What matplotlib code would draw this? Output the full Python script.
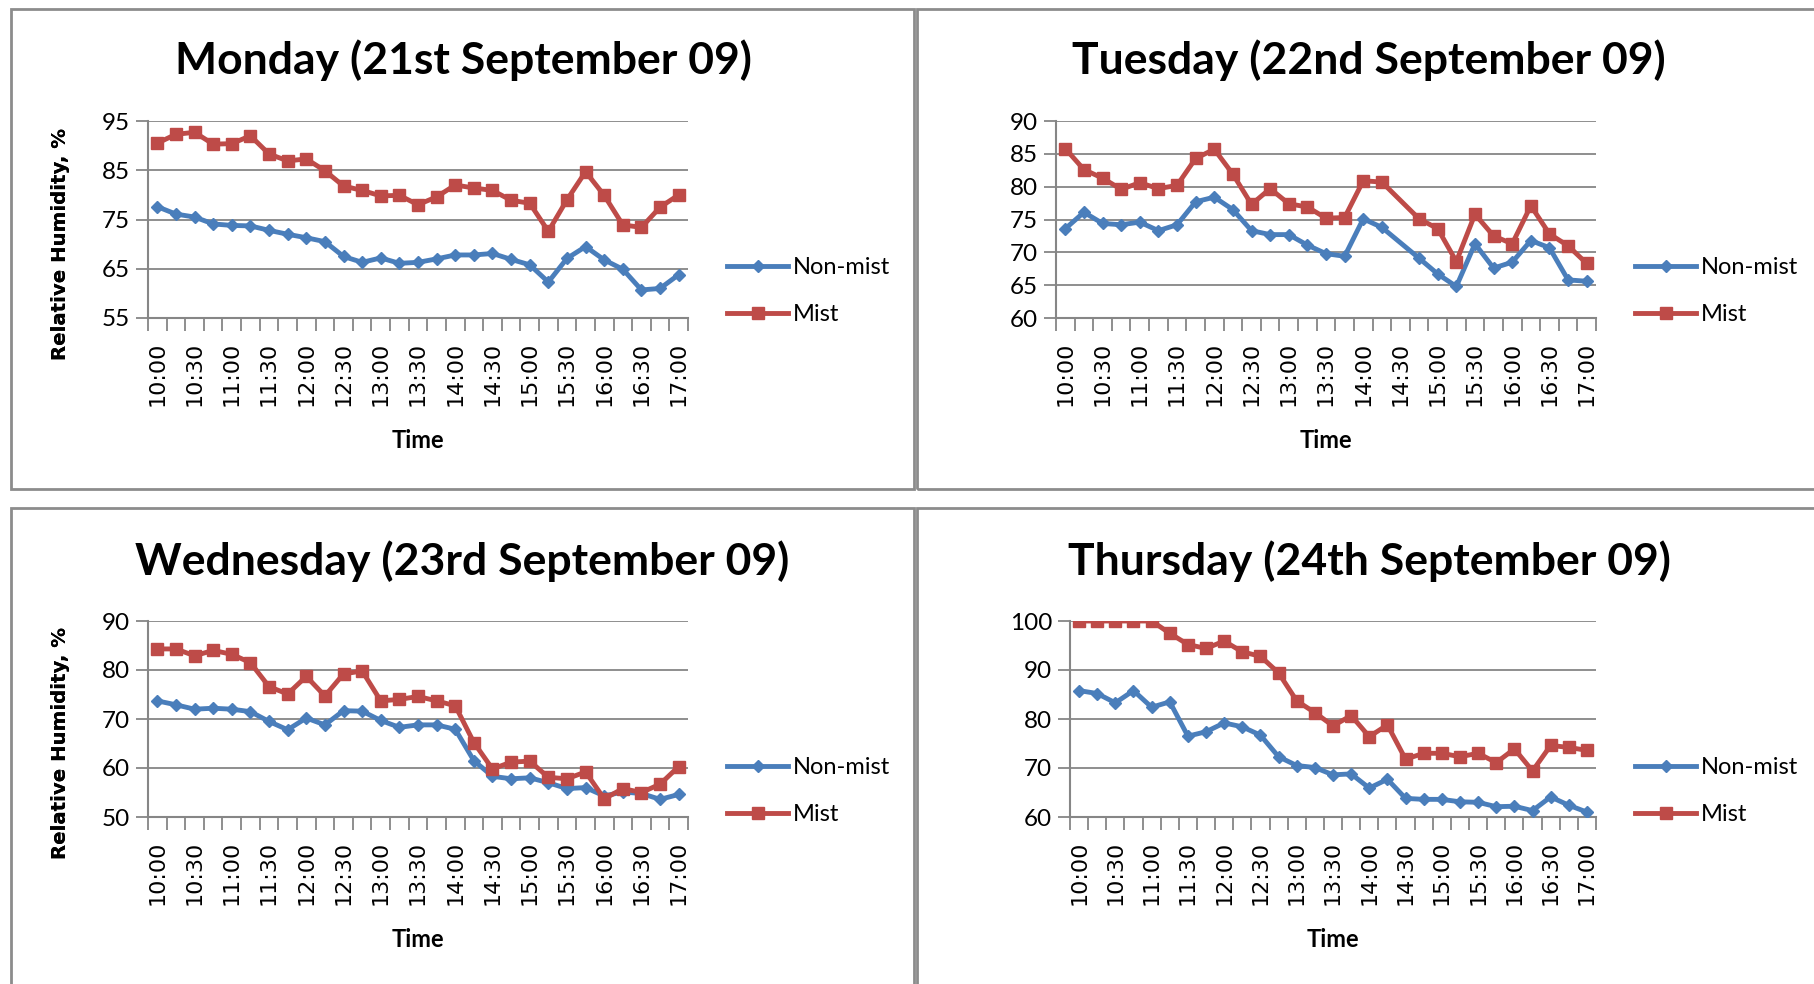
import numpy as np
import matplotlib
matplotlib.use("Agg")
import matplotlib.pyplot as plt
from matplotlib.patches import Rectangle

# 15-minute readings, 10:00 to 17:00
times = ["10:00", "10:15", "10:30", "10:45", "11:00", "11:15", "11:30", "11:45",
         "12:00", "12:15", "12:30", "12:45", "13:00", "13:15", "13:30", "13:45",
         "14:00", "14:15", "14:30", "14:45", "15:00", "15:15", "15:30", "15:45",
         "16:00", "16:15", "16:30", "16:45", "17:00"]

mon_nonmist = [77.6, 76.1, 75.5, 74.1, 73.8, 73.7, 72.8, 72.0, 71.3, 70.5, 67.5, 66.3, 67.2, 66.1, 66.3,
               67.0, 67.8, 67.8, 68.1, 66.9, 65.8, 62.3, 67.1, 69.5, 66.8, 64.9, 60.7, 61.0, 63.8]
mon_mist = [90.5, 92.3, 92.7, 90.3, 90.4, 92.0, 88.3, 86.9, 87.3, 84.9, 81.8, 80.9, 79.8, 79.9, 78.0,
            79.6, 82.0, 81.4, 80.9, 78.9, 78.3, 72.6, 79.0, 84.7, 79.9, 73.9, 73.4, 77.5, 80.0]

tue_nonmist = [73.6, 76.1, 74.4, 74.2, 74.6, 73.3, 74.2, 77.7, 78.4, 76.5, 73.3, 72.7, 72.7, 71.1, 69.8,
               69.4, 75.1, 73.8, np.nan, 69.1, 66.7, 64.8, 71.3, 67.6, 68.5, 71.8, 70.7, 65.8, 65.6]
tue_mist = [85.8, 82.6, 81.3, 79.6, 80.6, 79.7, 80.2, 84.3, 85.7, 81.9, 77.3, 79.7, 77.4, 76.9, 75.2,
            75.3, 80.9, 80.7, np.nan, 75.1, 73.6, 68.6, 75.8, 72.5, 71.3, 77.1, 72.8, 71.0, 68.3]

wed_nonmist = [73.7, 72.9, 72.0, 72.2, 72.0, 71.5, 69.5, 67.8, 70.2, 68.8, 71.7, 71.6, 69.7, 68.3, 68.8,
               68.8, 67.9, 61.5, 58.3, 57.8, 58.0, 57.0, 55.8, 56.0, 54.3, 55.1, 54.8, 53.6, 54.6]
wed_mist = [84.3, 84.3, 82.9, 84.0, 83.2, 81.5, 76.6, 75.1, 78.7, 74.7, 79.2, 79.8, 73.7, 74.0, 74.6,
            73.7, 72.7, 65.2, 59.8, 61.2, 61.4, 58.1, 57.8, 59.2, 53.7, 55.8, 55.0, 56.7, 60.3]

thu_nonmist = [85.8, 85.2, 83.3, 85.8, 82.4, 83.5, 76.5, 77.4, 79.2, 78.4, 76.7, 72.3, 70.5, 70.1, 68.6,
               68.8, 65.9, 67.7, 63.8, 63.6, 63.6, 63.1, 63.0, 62.1, 62.2, 61.3, 64.1, 62.4, 61.0]
thu_mist = [100, 100, 100, 100, 100, 97.5, 95.2, 94.4, 95.9, 93.7, 92.8, 89.4, 83.7, 81.3, 78.6,
            80.7, 76.4, 78.8, 71.8, 73.0, 73.0, 72.3, 73.0, 71.1, 73.9, 69.4, 74.6, 74.2, 73.6]

titles = ["Monday (21st September 09)", "Tuesday (22nd September 09)",
          "Wednesday (23rd September 09)", "Thursday (24th September 09)"]
ylims = [(55, 95), (60, 90), (50, 90), (60, 100)]
ysteps = [10, 5, 10, 10]

W, H = 1814, 984
BLUE = "#4a7ebb"
RED = "#be4b48"
GRID = "#868686"

fig = plt.figure(figsize=(W / 100, H / 100), dpi=100)
fig.patch.set_facecolor("white")


def fx(px):
    return px / W


def fy(py):
    return 1 - py / H


# panel boxes (pixel coords: left, top, right, bottom)
boxes = [(11, 9, 914, 489), (917, 9, 1830, 489), (11, 508, 914, 1000), (917, 508, 1830, 1000)]
for l, t, r, b in boxes:
    fig.patches.append(Rectangle((fx(l), fy(b)), fx(r - l), (b - t) / H, transform=fig.transFigure,
                                 fill=False, edgecolor="#8c8c8c", linewidth=2, zorder=0))

# plot areas (pixel coords: left, top, right, bottom)
areas = [(148, 121, 688, 318), (1056, 121, 1596, 318), (148, 621, 688, 817), (1070, 621, 1596, 817)]
title_pos = [(463, 60), (1369, 60), (462, 561), (1369, 561)]
legend_pos = [(727, 291), (1635, 291), (727, 791), (1635, 791)]

data = [(mon_nonmist, mon_mist), (tue_nonmist, tue_mist), (wed_nonmist, wed_mist), (thu_nonmist, thu_mist)]

x = np.arange(len(times))
for i in range(4):
    l, t, r, b = areas[i]
    ax = fig.add_axes([fx(l), fy(b), fx(r - l), (b - t) / H])
    nm = np.array(data[i][0], dtype=float)
    mi = np.array(data[i][1], dtype=float)
    m1 = ~np.isnan(nm)
    m2 = ~np.isnan(mi)
    h1, = ax.plot(x[m1], nm[m1], color=BLUE, lw=3.5, marker="D", ms=6, label="Non-mist", zorder=3)
    h2, = ax.plot(x[m2], mi[m2], color=RED, lw=3.5, marker="s", ms=8.5, label="Mist", zorder=4)

    lo, hi = ylims[i]
    ax.set_ylim(lo, hi)
    ax.set_xlim(-0.5, len(times) - 0.5)
    ax.set_yticks(np.arange(lo, hi + 0.1, ysteps[i]))
    ax.yaxis.grid(True, color=GRID, lw=1.3)
    ax.set_axisbelow(True)
    for s in ["top", "right"]:
        ax.spines[s].set_visible(False)
    for s in ["left", "bottom"]:
        ax.spines[s].set_color(GRID)
        ax.spines[s].set_linewidth(1.5)

    # category ticks between points, labels every half hour
    ax.set_xticks(np.arange(-0.5, len(times), 1.0))
    ax.set_xticklabels([])
    ax.set_xticks(x[::2], minor=True)
    ax.set_xticklabels(times[::2], minor=True, rotation=90, fontsize=16, family="DejaVu Sans")
    ax.tick_params(axis="x", which="major", length=9, width=1.3, color=GRID)
    ax.tick_params(axis="x", which="minor", length=0, pad=17)
    ax.tick_params(axis="y", length=9, width=1.3, color=GRID, pad=4, labelsize=17.5)
    for lab in ax.get_yticklabels():
        lab.set_family("Lato")

    ax.set_ylabel("Relative Humidity, %", fontsize=14.2, fontweight="bold", family="DejaVu Sans")
    ax.yaxis.set_label_coords(-(l - 70) / (r - l), 0.5 - 24 / (b - t))
    ax.set_xlabel("Time", fontsize=17, fontweight="bold", family="Lato")
    ax.xaxis.set_label_coords(0.5, -111 / (b - t))

    tx, ty = title_pos[i]
    fig.text(fx(tx), fy(ty), titles[i], ha="center", va="center", fontsize=32,
             fontweight="bold", family="Lato")

    lx, ly = legend_pos[i]
    fig.legend(handles=[h1, h2], loc="center left", bbox_to_anchor=(fx(lx), fy(ly)),
               frameon=False, prop={"family": "Lato", "size": 17}, handlelength=2.6,
               handletextpad=0.2, labelspacing=1.1, borderpad=0, borderaxespad=0)

fig.savefig("out.png", dpi=100)
